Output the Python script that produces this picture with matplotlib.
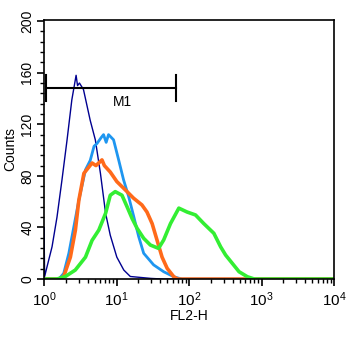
import numpy as np
import matplotlib.pyplot as plt
from matplotlib.ticker import FixedLocator, NullFormatter

plt.rcParams['font.family'] = ['Liberation Sans', 'DejaVu Sans']
plt.rcParams['mathtext.fontset'] = 'custom'
plt.rcParams['mathtext.rm'] = 'Liberation Sans'
plt.rcParams['mathtext.it'] = 'Liberation Sans'

# isotype / control (dark blue, thin)
navy_x = [1.0, 1.0, 1.02, 1.1, 1.29, 1.51, 1.77, 2.08, 2.42, 2.77, 2.9, 3.08,
          3.5, 4.34, 5.1, 6.0, 7.07, 8.2, 10.1, 12.6, 15.5, 30.0, 45.0, 1e4]
navy_y = [0, 40, 2, 9.5, 25, 48, 77, 108, 139, 158, 150, 152,
          147, 123, 108, 82, 51, 34, 17, 7, 2, 0.5, 0, 0]

# sample 1 (light blue)
blue_x = [1.0, 1.6, 1.87, 2.2, 2.58, 3.02, 3.73, 4.34, 4.9, 5.36, 6.2, 6.62,
          7.2, 7.76, 9.1, 10.7, 12.5, 14.7, 17.3, 20.2, 23.7, 32.5, 44.7, 61.7,
          80.0, 1e4]
blue_y = [0, 0, 4.4, 20, 40.6, 61, 84.7, 92, 103, 105, 110, 112,
          106, 112, 108, 92.4, 77, 64, 48.4, 33, 20, 11, 5.7, 1.8,
          0, 0]

# sample 2 (orange)
orange_x = [1.0, 1.6, 1.87, 2.31, 2.71, 3.02, 3.55, 4.6, 5.2, 6.3, 6.8, 8.2,
            10.1, 13.3, 17.2, 22.4, 26.3, 31.0, 36.3, 42.5, 50.0, 61.7, 70.0, 1e4]
orange_y = [0, 0, 2, 17, 38, 61, 82, 90, 88, 92.4, 88, 83,
            75.6, 69, 62.7, 57.5, 52, 43, 30, 17, 8.3, 1.8, 0, 0]

# sample 3 (green)
green_x = [1.0, 1.5, 1.97, 2.7, 3.73, 4.6, 5.7, 7.07, 8.2, 9.6, 11.9, 14.0,
           16.4, 19.2, 23.7, 29.3, 38.0, 44.7, 55.5, 72.4, 94.0, 123.0, 160.0, 220.0,
           273.0, 320.0, 398.0, 490.0, 638.0, 800.0, 1e4]
green_y = [0, 0, 2, 7, 17, 30, 38, 51, 65, 67.8, 65, 56,
           47, 39.4, 31.6, 26.4, 23.8, 30.3, 43, 55, 52, 49.7, 43, 35.5,
           25, 18.6, 12, 5.7, 1.8, 0, 0]

# M1 marker gate
m1_lo, m1_hi, m1_level = 1.06, 66.5, 148

fig = plt.figure(figsize=(3.59, 3.42), dpi=100)
ax = fig.add_axes([0.1226, 0.184, 0.8078, 0.758])

ax.plot(navy_x, navy_y, color='#000090', lw=1.0)
ax.plot(blue_x, blue_y, color='#1E96F0', lw=2.0)
ax.plot(orange_x, orange_y, color='#FF6A1A', lw=2.6)
ax.plot(green_x, green_y, color='#33EE33', lw=2.6)

# gate bar
ax.plot([m1_lo, m1_hi], [m1_level, m1_level], color='black', lw=1.5)
ax.plot([m1_lo, m1_lo], [m1_level - 10, m1_level + 10], color='black', lw=1.5)
ax.plot([m1_hi, m1_hi], [m1_level - 10, m1_level + 10], color='black', lw=1.5)
ax.text(12, 137, 'M1', ha='center', va='center', fontsize=10)

ax.set_xscale('log')
ax.set_xlim(1, 1e4)
ax.set_ylim(0, 201)

ax.set_xticks([1, 10, 100, 1000, 10000])
ax.set_xticklabels([r'$10^{0}$', r'$10^{1}$', r'$10^{2}$', r'$10^{3}$', r'$10^{4}$'])
minor_x = [m * 10 ** d for d in range(4) for m in range(2, 10)]
ax.xaxis.set_minor_locator(FixedLocator(minor_x))
ax.xaxis.set_minor_formatter(NullFormatter())

ax.set_yticks([0, 40, 80, 120, 160, 200])
ax.yaxis.set_minor_locator(FixedLocator(np.arange(0, 201, 8)))
for lab in ax.get_yticklabels():
    lab.set_rotation(90)
    lab.set_va('center')

ax.tick_params(which='major', length=5, width=1.2, labelsize=10, pad=2)
ax.tick_params(which='minor', length=3, width=1.0)
ax.tick_params(axis='x', which='major', labelsize=11, pad=3)

for s in ax.spines.values():
    s.set_linewidth(1.2)

ax.set_xlabel('FL2-H', fontsize=10, labelpad=0)
ax.set_ylabel('Counts', fontsize=10, labelpad=2)

fig.savefig('out.png', dpi=100)
